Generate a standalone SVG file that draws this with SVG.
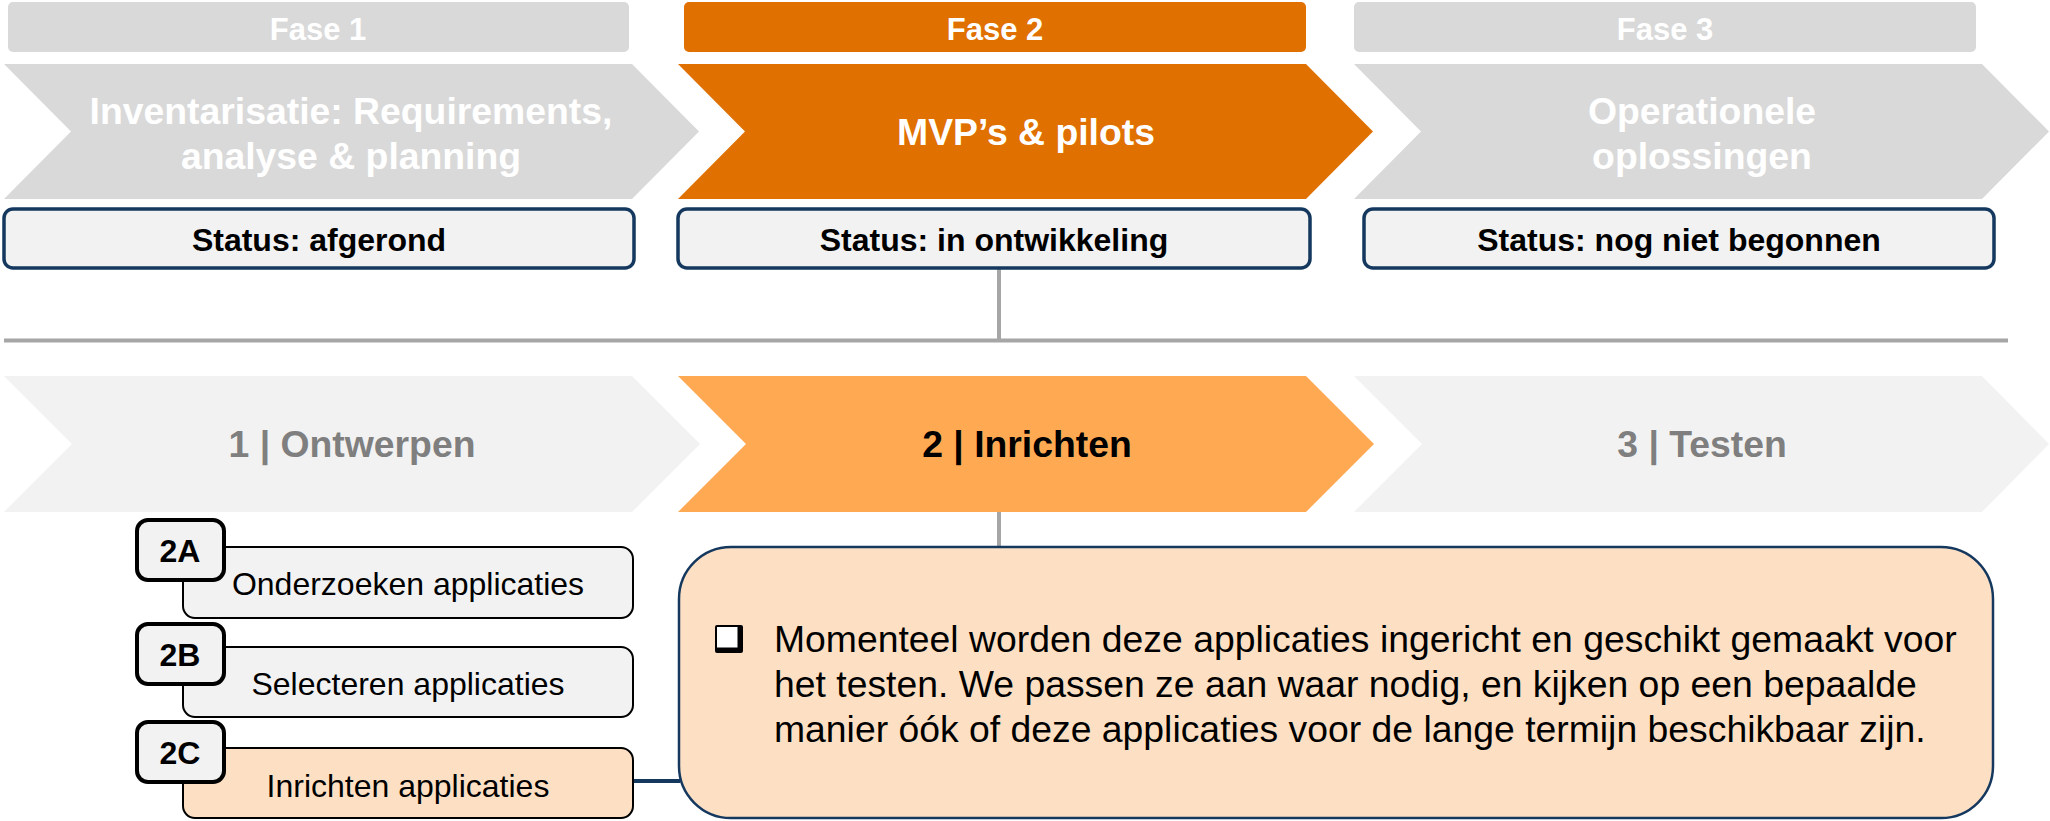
<svg xmlns="http://www.w3.org/2000/svg" width="2050" height="821" viewBox="0 0 2050 821">
<style>
  text { font-family: "Liberation Sans", Arial, sans-serif; }
  .fase { font-size: 31px; font-weight: bold; fill: #FFFFFF; text-anchor: middle; }
  .chev { font-size: 37.33px; font-weight: bold; text-anchor: middle; }
  .white { fill: #FFFFFF; }
  .grey { fill: #7F7F7F; }
  .black { fill: #000000; }
  .status { fill: #F2F2F2; stroke: #15385F; stroke-width: 3.5; }
  .stxt { font-size: 32px; font-weight: bold; fill: #000000; text-anchor: middle; }
  .lbl { fill: #F2F2F2; stroke: #000000; stroke-width: 4; }
  .lbltxt { font-size: 32px; font-weight: bold; fill: #000000; text-anchor: middle; }
  .sub { stroke: #000000; stroke-width: 2; }
  .subtxt { font-size: 32px; fill: #000000; text-anchor: middle; }
  .gline { stroke: #A6A6A6; stroke-width: 4; fill: none; }
  .nline { stroke: #15385F; stroke-width: 4; fill: none; }
  .body { font-size: 37.33px; fill: #000000; }
</style>

<g id="connectors">
  <line class="gline" x1="4" y1="340.5" x2="2008" y2="340.5" stroke-width="5"/>
  <line class="gline" x1="999" y1="268" x2="999" y2="340"/>
  <line class="gline" x1="999" y1="512" x2="999" y2="547"/>
  <line class="nline" x1="633" y1="781" x2="680" y2="781"/>
</g>

<g id="fase1">
  <rect x="8" y="2" width="621" height="50" rx="5" fill="#D9D9D9"/>
  <text class="fase" x="318" y="40">Fase 1</text>
</g>
<g id="fase2">
  <rect x="684" y="2" width="622" height="50" rx="5" fill="#E07000"/>
  <text class="fase" x="995" y="40">Fase 2</text>
</g>
<g id="fase3">
  <rect x="1354" y="2" width="622" height="50" rx="5" fill="#D9D9D9"/>
  <text class="fase" x="1665" y="40">Fase 3</text>
</g>

<g id="phase1">
  <path d="M4,64 H632 L699,131.5 L632,199 H4 L71,131.5 Z" fill="#D9D9D9"/>
  <text class="chev white" x="351" y="124">Inventarisatie: Requirements,</text>
  <text class="chev white" x="351" y="169">analyse &amp; planning</text>
</g>
<g id="phase2">
  <path d="M678,64 H1306 L1373,131.5 L1306,199 H678 L745,131.5 Z" fill="#E07000"/>
  <text class="chev white" x="1026" y="145">MVP’s &amp; pilots</text>
</g>
<g id="phase3">
  <path d="M1354,64 H1982 L2049,131.5 L1982,199 H1354 L1421,131.5 Z" fill="#D9D9D9"/>
  <text class="chev white" x="1702" y="124">Operationele</text>
  <text class="chev white" x="1702" y="169">oplossingen</text>
</g>

<g id="status1">
  <rect class="status" x="4" y="209" width="630" height="59" rx="9"/>
  <text class="stxt" x="319" y="251">Status: afgerond</text>
</g>
<g id="status2">
  <rect class="status" x="678" y="209" width="632" height="59" rx="9"/>
  <text class="stxt" x="994" y="251">Status: in ontwikkeling</text>
</g>
<g id="status3">
  <rect class="status" x="1364" y="209" width="630" height="59" rx="9"/>
  <text class="stxt" x="1679" y="251">Status: nog niet begonnen</text>
</g>

<g id="step1">
  <path d="M4,376 H632 L700,444 L632,512 H4 L72,444 Z" fill="#F2F2F2"/>
  <text class="chev grey" x="352" y="457">1 | Ontwerpen</text>
</g>
<g id="step2">
  <path d="M678,376 H1306 L1374,444 L1306,512 H678 L746,444 Z" fill="#FFA953"/>
  <text class="chev black" x="1027" y="457">2 | Inrichten</text>
</g>
<g id="step3">
  <path d="M1354,376 H1982 L2049,444 L1982,512 H1354 L1422,444 Z" fill="#F2F2F2"/>
  <text class="chev grey" x="1702" y="457">3 | Testen</text>
</g>

<g id="task2A">
  <rect class="sub" x="183" y="547" width="450" height="71" rx="12" fill="#F2F2F2"/>
  <text class="subtxt" x="408" y="595">Onderzoeken applicaties</text>
  <rect class="lbl" x="137" y="520" width="87" height="60" rx="11"/>
  <text class="lbltxt" x="180" y="562">2A</text>
</g>
<g id="task2B">
  <rect class="sub" x="183" y="647" width="450" height="70" rx="12" fill="#F2F2F2"/>
  <text class="subtxt" x="408" y="695">Selecteren applicaties</text>
  <rect class="lbl" x="137" y="624" width="87" height="60" rx="11"/>
  <text class="lbltxt" x="180" y="666">2B</text>
</g>
<g id="task2C">
  <rect class="sub" x="183" y="748" width="450" height="70" rx="12" fill="#FDE0C4"/>
  <text class="subtxt" x="408" y="797">Inrichten applicaties</text>
  <rect class="lbl" x="137" y="722" width="87" height="60" rx="11"/>
  <text class="lbltxt" x="180" y="764">2C</text>
</g>

<g id="description">
  <rect x="679" y="547" width="1314" height="271" rx="52" fill="#FDE0C4" stroke="#15385F" stroke-width="2.5"/>
  <rect x="715" y="625" width="28" height="28" rx="2" fill="#000000"/>
  <rect x="717" y="627" width="20.5" height="20.5" fill="#FFFFFF"/>
  <text class="body" x="774" y="652">Momenteel worden deze applicaties ingericht en geschikt gemaakt voor</text>
  <text class="body" x="774" y="697">het testen. We passen ze aan waar nodig, en kijken op een bepaalde</text>
  <text class="body" x="774" y="742">manier óók of deze applicaties voor de lange termijn beschikbaar zijn.</text>
</g>
</svg>
